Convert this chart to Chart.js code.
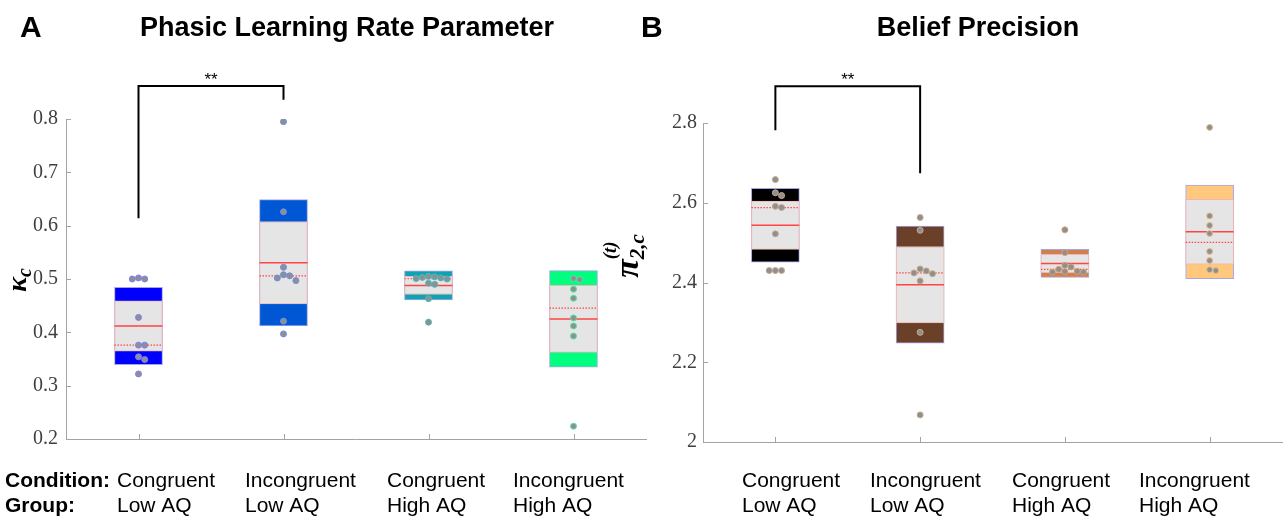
<!DOCTYPE html>
<html>
<head>
<meta charset="utf-8">
<script src="https://cdn.jsdelivr.net/npm/chart.js@4.4.1/dist/chart.umd.min.js"></script>
<style>
  html, body { margin: 0; padding: 0; background: #ffffff; }
  #wrap { position: relative; width: 1286px; height: 517px; overflow: hidden; background: #fff; }
  canvas { position: absolute; top: 0; }
  #cA { left: 0px; }
  #cB { left: 600px; }
</style>
</head>
<body>
<div id="wrap">
  <canvas id="cA" width="650" height="517"></canvas>
  <canvas id="cB" width="686" height="517"></canvas>
</div>
<script>
// ---------------- DATA ----------------
const conditions = ['Congruent', 'Incongruent', 'Congruent', 'Incongruent'];
const groups = ['Low AQ', 'Low AQ', 'High AQ', 'High AQ'];

// Panel A: phasic learning rate (kappa_c), per participant
const kappaCongLow   = [0.500, 0.500, 0.502, 0.428, 0.376, 0.376, 0.354, 0.349, 0.322];
const kappaIncongLow = [0.795, 0.626, 0.522, 0.506, 0.502, 0.508, 0.497, 0.421, 0.397];
const kappaCongHigh  = [0.505, 0.504, 0.503, 0.502, 0.501, 0.500, 0.492, 0.490, 0.463, 0.419];
const kappaIncongHigh= [0.501, 0.499, 0.481, 0.464, 0.427, 0.412, 0.393, 0.224];

// Panel B: belief precision (pi_2,c^(t)), per participant
const piCongLow   = [2.658, 2.625, 2.618, 2.591, 2.588, 2.522, 2.430, 2.430, 2.430];
const piIncongLow = [2.563, 2.531, 2.434, 2.429, 2.424, 2.422, 2.404, 2.275, 2.068];
const piCongHigh  = [2.532, 2.475, 2.443, 2.439, 2.433, 2.428, 2.427, 2.426, 2.426];
const piIncongHigh= [2.789, 2.567, 2.543, 2.523, 2.478, 2.455, 2.432, 2.430];

// Y-axis ranges / ticks
const kappaTicks = [0.2, 0.3, 0.4, 0.5, 0.6, 0.7, 0.8];
const piTicks = [2.0, 2.2, 2.4, 2.6, 2.8];

// Significance brackets: [group a, group b, y at a, y at b, y top]
const sigA = [1, 2, 0.614, 0.836, 0.862];
const sigB = [1, 2, 2.782, 2.674, 2.892];

// ---------------- STYLE ----------------
const AXIS_COLOR = '#a3a3a3';
const colorsA = ['#0000ff', '#0057d4', '#0fa2b2', '#00ff7f'];
const colorsB = ['#000000', '#6a4128', '#d0804c', '#ffc87c'];
const ptEdgeA = ['#7f7fff', '#6a90e6', '#45bcc4', '#4fe6a6'];
const ptEdgeB = ['#c8aa8c', '#c8aa8c', '#d4a27a', '#e8c08e'];
const PT_FILL = '#8f8f8f';
const INNER_FILL = '#e5e5e5';
const INNER_EDGE = '#f0b4b4';
const OUTER_EDGE = '#a4a4e6';
const MEAN_COLOR = '#ff4444';

// ---------------- HELPERS ----------------
function stats(arr) {
  const n = arr.length;
  const mean = arr.reduce((a, b) => a + b, 0) / n;
  const s = [...arr].sort((a, b) => a - b);
  const median = n % 2 ? s[(n - 1) / 2] : (s[n / 2 - 1] + s[n / 2]) / 2;
  const sd = Math.sqrt(arr.reduce((a, b) => a + (b - mean) * (b - mean), 0) / (n - 1));
  const ci = 1.96 * sd / Math.sqrt(n);
  return { mean, median, sd, ci };
}

// simple beeswarm: spread overlapping points horizontally
function swarm(values, xCenter, yPxPerUnit, xPxPerUnit) {
  const diam = 6.2;
  const idx = values.map((v, i) => i).sort((a, b) => values[b] - values[a]);
  const placed = [];
  const out = new Array(values.length);
  idx.forEach(i => {
    const vy = values[i] * yPxPerUnit;
    for (let k = 0; k < 30; k++) {
      const step = k === 0 ? 0 : (k % 2 ? Math.ceil(k / 2) : -Math.ceil(k / 2));
      const px = step * diam;
      const ok = placed.every(p => Math.hypot(p.px - px, p.py - vy) >= diam);
      if (ok) {
        placed.push({ px, py: vy });
        out[i] = { x: xCenter + px / xPxPerUnit, y: values[i] };
        break;
      }
    }
  });
  return out;
}

function buildDatasets(groupsData, colors, edges, yMin, yMax) {
  const yPx = 319 / (yMax - yMin);
  const xPx = 145;
  const half = 24 / xPx;
  const st = groupsData.map(stats);
  const outer = [], inner = [], meanLine = [], medLine = [], pts = [], ptEdge = [];
  st.forEach((s, i) => {
    const cx = i + 1;
    outer.push({ x: cx, y: [s.mean - s.sd, s.mean + s.sd] });
    inner.push({ x: cx, y: [s.mean - s.ci, s.mean + s.ci] });
    meanLine.push({ x: cx - half, y: s.mean }, { x: cx + half, y: s.mean }, { x: cx + 0.5, y: null });
    medLine.push({ x: cx - half, y: s.median }, { x: cx + half, y: s.median }, { x: cx + 0.5, y: null });
    swarm(groupsData[i], cx, yPx, xPx).forEach(p => { pts.push(p); ptEdge.push(edges[i]); });
  });
  return [
    { type: 'scatter', data: pts, pointRadius: 3, pointHoverRadius: 3, pointBackgroundColor: PT_FILL,
      pointBorderColor: ptEdge, pointBorderWidth: 1, order: 0 },
    { type: 'line', data: medLine, borderColor: MEAN_COLOR, borderWidth: 1.2, borderDash: [1.5, 1.5],
      pointRadius: 0, spanGaps: false, order: 1 },
    { type: 'line', data: meanLine, borderColor: MEAN_COLOR, borderWidth: 1.6,
      pointRadius: 0, spanGaps: false, order: 2 },
    { type: 'bar', data: inner, backgroundColor: INNER_FILL, borderColor: INNER_EDGE, borderWidth: 1,
      borderSkipped: false, barThickness: 48, grouped: false, order: 3 },
    { type: 'bar', data: outer, backgroundColor: colors, borderColor: OUTER_EDGE, borderWidth: 1,
      borderSkipped: false, barThickness: 48, grouped: false, order: 4 }
  ];
}

function fmt(v) { return String(+v.toFixed(2)); }

function drawRotated(ctx, cx, cy, pieces) {
  ctx.save();
  ctx.translate(cx, cy);
  ctx.rotate(-Math.PI / 2);
  ctx.textBaseline = 'alphabetic';
  ctx.textAlign = 'left';
  ctx.fillStyle = '#000';
  const widths = pieces.map(p => { ctx.font = p.font; return ctx.measureText(p.t).width; });
  const xs = [];
  let x = 0, lastStart = 0;
  pieces.forEach((p, i) => {
    if (p.stack) { xs.push(lastStart); x = Math.max(x, lastStart + widths[i]); }
    else { xs.push(x); lastStart = x; x += widths[i]; }
  });
  const total = x;
  pieces.forEach((p, i) => {
    ctx.font = p.font;
    ctx.fillText(p.t, xs[i] - total / 2, p.dy);
  });
  ctx.restore();
}

function makeDecor(cfg) {
  return {
    id: 'decor',
    afterDraw(chart) {
      const { ctx, chartArea, scales } = chart;
      const x = scales.x, y = scales.y;
      ctx.save();
      // inward ticks
      ctx.strokeStyle = AXIS_COLOR;
      ctx.lineWidth = 1;
      ctx.beginPath();
      cfg.yTicks.forEach(v => {
        const py = Math.round(y.getPixelForValue(v)) + 0.5;
        ctx.moveTo(chartArea.left, py);
        ctx.lineTo(chartArea.left + 5, py);
      });
      conditions.forEach((c, i) => {
        const px = Math.round(x.getPixelForValue(i + 1)) + 0.5;
        ctx.moveTo(px, chartArea.bottom);
        ctx.lineTo(px, chartArea.bottom - 5);
      });
      ctx.stroke();

      // significance bracket
      const [ga, gb, ya, yb, yt] = cfg.sig;
      const xa = x.getPixelForValue(ga), xb = x.getPixelForValue(gb);
      const pa = y.getPixelForValue(ya), pb = y.getPixelForValue(yb), pt = y.getPixelForValue(yt);
      ctx.strokeStyle = '#000';
      ctx.lineWidth = 2;
      ctx.beginPath();
      ctx.moveTo(xa, pa); ctx.lineTo(xa, pt); ctx.lineTo(xb, pt); ctx.lineTo(xb, pb);
      ctx.stroke();
      ctx.fillStyle = '#000';
      ctx.font = '17px "Liberation Sans", Arial, sans-serif';
      ctx.textAlign = 'center';
      ctx.textBaseline = 'alphabetic';
      ctx.fillText('**', (xa + xb) / 2, pt - 1);

      // panel letter and title
      ctx.font = 'bold 30px "Liberation Sans", Arial, sans-serif';
      ctx.textAlign = 'left';
      ctx.textBaseline = 'middle';
      ctx.fillText(cfg.letter, cfg.letterX, 29);
      ctx.font = 'bold 27px "Liberation Sans", Arial, sans-serif';
      ctx.textAlign = 'center';
      ctx.fillText(cfg.title, cfg.titleX, 29);

      // category labels
      ctx.textAlign = 'left';
      ctx.font = '21px "Liberation Sans", Arial, sans-serif';
      conditions.forEach((c, i) => {
        ctx.fillText(c, cfg.labelX[i], 481);
        ctx.fillText(groups[i], cfg.labelX[i], 506);
      });
      if (cfg.rowHeads) {
        ctx.font = 'bold 21px "Liberation Sans", Arial, sans-serif';
        ctx.fillText('Condition:', 5, 481);
        ctx.fillText('Group:', 5, 506);
      }

      // y-axis title
      drawRotated(ctx, cfg.yTitlePos[0], cfg.yTitlePos[1], cfg.yTitle);
      ctx.restore();
    }
  };
}

function makeChart(canvasId, datasets, yMin, yMax, step, padTop, padRight, yWidth, xHeight, labelPad, decor) {
  return new Chart(document.getElementById(canvasId), {
    type: 'bar',
    data: { datasets },
    options: {
      responsive: false,
      animation: false,
      layout: { padding: { top: padTop, right: padRight, left: 0, bottom: 0 } },
      plugins: { legend: { display: false }, tooltip: { enabled: false }, title: { display: false } },
      scales: {
        x: {
          type: 'linear', min: 0.5, max: 4.5, offset: false,
          grid: { display: false, drawTicks: false },
          border: { display: true, color: AXIS_COLOR, width: 1 },
          ticks: { display: false },
          afterFit(s) { s.height = xHeight; }
        },
        y: {
          type: 'linear', min: yMin, max: yMax,
          grid: { display: false, drawTicks: false },
          border: { display: true, color: AXIS_COLOR, width: 1 },
          ticks: {
            stepSize: step, padding: labelPad, color: '#404040',
            font: { family: '"Liberation Serif", "Times New Roman", serif', size: 20 },
            callback: v => fmt(v)
          },
          afterFit(s) { s.width = yWidth; }
        }
      }
    },
    plugins: [decor]
  });
}

// ---------------- PANEL A ----------------
const dsA = buildDatasets([kappaCongLow, kappaIncongLow, kappaCongHigh, kappaIncongHigh],
  colorsA, ptEdgeA, 0.2, 0.8);
makeChart('cA', dsA, 0.2, 0.8, 0.1, 119, 4, 66, 78, 8, makeDecor({
  yTicks: kappaTicks, sig: sigA, letter: 'A', letterX: 20,
  title: 'Phasic Learning Rate Parameter', titleX: 347,
  labelX: [117, 245, 387, 513], rowHeads: true,
  yTitlePos: [19, 280],
  yTitle: [
    { t: 'κ', font: 'bold italic 28px "Liberation Serif", serif', dy: 7 },
    { t: 'c', font: 'bold italic 20px "Liberation Serif", serif', dy: 12 }
  ]
}));

// ---------------- PANEL B ----------------
const dsB = buildDatasets([piCongLow, piIncongLow, piCongHigh, piIncongHigh],
  colorsB, ptEdgeB, 2.0, 2.8);
makeChart('cB', dsB, 2.0, 2.8, 0.2, 123, 3, 103, 75, 6, makeDecor({
  yTicks: piTicks, sig: sigB, letter: 'B', letterX: 41,
  title: 'Belief Precision', titleX: 378,
  labelX: [142, 270, 412, 539], rowHeads: false,
  yTitlePos: [29, 256],
  yTitle: [
    { t: 'π', font: 'bold italic 34px "Liberation Serif", serif', dy: 9 },
    { t: '(t)', font: 'bold italic 19px "Liberation Serif", serif', dy: -13 },
    { t: '2,c', font: 'bold italic 21px "Liberation Serif", serif', dy: 15, stack: true }
  ]
}));
</script>
</body>
</html>
